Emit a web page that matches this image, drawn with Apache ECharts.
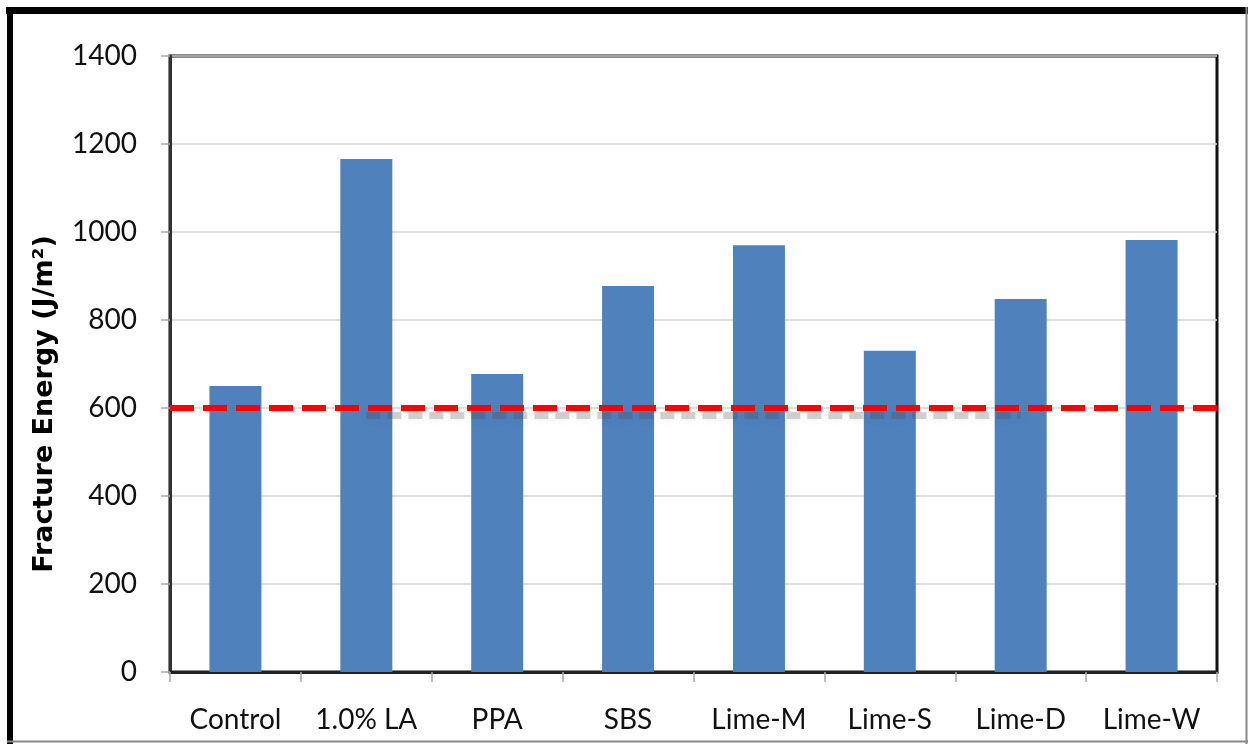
<!DOCTYPE html>
<html>
<head>
<meta charset="utf-8">
<script src="https://cdn.jsdelivr.net/npm/echarts@6/dist/echarts.min.js"></script>
<style>
html,body{margin:0;padding:0;background:#fff;}
#c{width:1249px;height:744px;}
</style>
</head>
<body>
<div id="c"></div>
<script>
const categories = ['Control', '1.0% LA', 'PPA', 'SBS', 'Lime-M', 'Lime-S', 'Lime-D', 'Lime-W'];
const fractureEnergy = [650, 1166, 677, 877, 970, 730, 848, 982];
const thresholdValue = 600;
const shadowValue = 583;
const shadowFrom = '1.0% LA';
const shadowTo = 'Lime-D';
const yTitle = 'Fracture Energy (J/m²)';

const chart = echarts.init(document.getElementById('c'), null, {renderer: 'canvas'});
const FONT = 'Lato, "Open Sans", sans-serif';
chart.setOption({
  animation: false,
  backgroundColor: '#fff',
  grid: {left: 170, right: 32, top: 56, bottom: 72, show: true, borderColor: '#111', borderWidth: 3, containLabel: false},
  xAxis: {
    type: 'category',
    data: categories,
    axisLine: {show: true, lineStyle: {color: '#222', width: 3}},
    axisTick: {show: true, interval: 0, length: 10, alignWithLabel: false, lineStyle: {color: '#aaa', width: 1.5}},
    axisLabel: {color: '#111', fontFamily: FONT, fontSize: 28, margin: 34, interval: 0, hideOverlap: false},
    splitLine: {show: false}
  },
  yAxis: {
    type: 'value',
    min: 0, max: 1400, interval: 200,
    axisLine: {show: true, lineStyle: {color: '#333', width: 3}},
    axisTick: {show: true, length: 9, lineStyle: {color: '#aaa', width: 1.5}},
    axisLabel: {color: '#111', fontFamily: FONT, fontSize: 28, margin: 33, formatter: v => String(v)},
    splitLine: {show: true, lineStyle: {color: '#d4d4d4', width: 1.5}}
  },
  graphic: [
    {type: 'text', x: 45, y: 404, rotation: Math.PI / 2, z: 10,
     style: {text: yTitle, font: 'bold 27px "DejaVu Sans", sans-serif', fill: '#000', align: 'center', verticalAlign: 'middle'}},
    {type: 'line', shape: {x1: 6, y1: 10.5, x2: 1248, y2: 10.5}, style: {stroke: '#000', lineWidth: 7}},
    {type: 'line', shape: {x1: 10, y1: 7, x2: 10, y2: 744}, style: {stroke: '#000', lineWidth: 6}},
    {type: 'line', shape: {x1: 1246.5, y1: 7, x2: 1246.5, y2: 744}, style: {stroke: '#888', lineWidth: 2}},
    {type: 'line', shape: {x1: 7, y1: 741.5, x2: 1248, y2: 741.5}, style: {stroke: '#888', lineWidth: 2}}
  ],
  series: [{
    type: 'bar',
    data: fractureEnergy,
    barWidth: 52,
    itemStyle: {color: '#4F81BD'},
    markLine: {
      silent: true,
      symbol: 'none',
      label: {show: false},
      data: [
        [{coord: [shadowFrom, shadowValue], lineStyle: {color: 'rgba(70,70,70,0.22)', width: 7, type: [14, 7], shadowBlur: 8, shadowColor: 'rgba(60,60,60,0.5)'}}, {coord: [shadowTo, shadowValue]}],
        {yAxis: thresholdValue, lineStyle: {color: '#FF0000', width: 6, type: [24, 9]}}
      ]
    }
  }]
});
</script>
</body>
</html>
